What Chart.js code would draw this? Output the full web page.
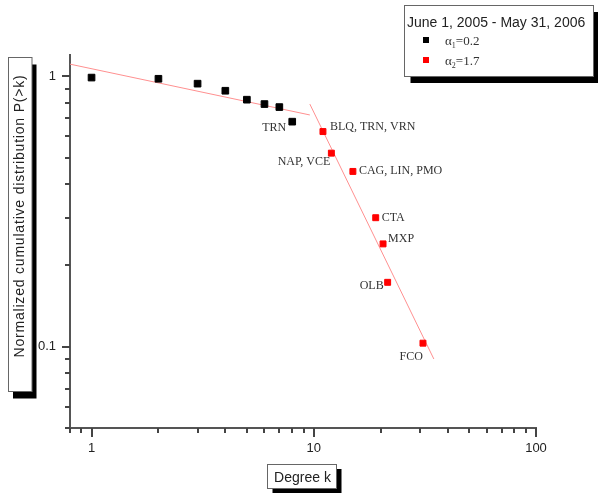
<!DOCTYPE html>
<html>
<head>
<meta charset="utf-8">
<script src="https://cdn.jsdelivr.net/npm/chart.js@4.4.0/dist/chart.umd.min.js"></script>
<style>
	html, body { margin: 0; padding: 0; background: #fff; }
	#wrap { position: relative; width: 598px; height: 493px; }
</style>
</head>
<body>
<div id="wrap"><canvas id="degreeChart"></canvas></div>
<script>
// Degree k vs normalized cumulative distribution P(>k)
const lowDegree = [1, 2, 3, 4, 5, 6, 7, 8];
const lowProb = [0.99, 0.98, 0.94, 0.885, 0.82, 0.79, 0.77, 0.68];
const lowNames = ["", "", "", "", "", "", "", "TRN"];

const highDegree = [11, 12, 15, 19, 20.5, 21.5, 31];
const highProb = [0.625, 0.52, 0.445, 0.30, 0.24, 0.173, 0.103];
const highNames = ["BLQ, TRN, VRN", "NAP, VCE", "CAG, LIN, PMO", "CTA", "MXP", "OLB", "FCO"];

// power law fits (end points)
const fit1Degree = [0.8, 9.6];
const fit1Prob = [1.11, 0.72];
const fit2Degree = [9.6, 34.7];
const fit2Prob = [0.79, 0.09];

const legendTitle = "June 1, 2005 - May 31, 2006";
const legendSymbols = ["1", "2"];
const legendValues = ["=0.2", "=1.7"];

const xTicks = [1, 10, 100];
const xTickText = ["1", "10", "100"];
const yTicks = [0.1, 1];
const yTickText = ["0.1", "1"];

const xTitle = "Degree k";
const yTitle = "Normalized cumulative distribution P(>k)";

// label placement next to the points: [dx, dy, align]
const lowNameOffsets = [null, null, null, null, null, null, null, [-6, 6, "right"]];
const highNameOffsets = [
	[7, -5, "left"],
	[-1, 9, "right"],
	[6, -1, "left"],
	[6, 0, "left"],
	[5, -5, "left"],
	[-4, 4, "right"],
	[0, 14, "right"],
];

const SANS = '"Liberation Sans", Arial, sans-serif';
const SERIF = '"Liberation Serif", "Times New Roman", serif';

function toPoints(xs, ys) {
	return xs.map((x, i) => ({ x: x, y: ys[i] }));
}

// minor/major tick positions of a log axis
function logSteps(min, max) {
	const out = [];
	for (let e = Math.floor(Math.log10(min)); e <= Math.ceil(Math.log10(max)); e++) {
		for (let m = 1; m <= 9; m++) {
			const v = m * Math.pow(10, e);
			if (v >= min * 0.9999 && v <= max * 1.0001) out.push({ v: v, major: m === 1 });
		}
	}
	return out;
}

const tickMarks = {
	id: "tickMarks",
	afterDraw(chart) {
		const ctx = chart.ctx;
		const xs = chart.scales.x;
		const ys = chart.scales.y;
		ctx.save();
		ctx.strokeStyle = "#444";
		ctx.lineWidth = 2;
		logSteps(xs.min, xs.max).forEach((t) => {
			const px = Math.round(xs.getPixelForValue(t.v));
			ctx.beginPath();
			ctx.moveTo(px, xs.top);
			ctx.lineTo(px, xs.top + (t.major ? 9 : 5));
			ctx.stroke();
		});
		logSteps(ys.min, ys.max).forEach((t) => {
			const py = Math.round(ys.getPixelForValue(t.v));
			ctx.beginPath();
			ctx.moveTo(ys.right, py);
			ctx.lineTo(ys.right - (t.major ? 8 : 5), py);
			ctx.stroke();
		});
		ctx.restore();
	},
};

function shadowBox(ctx, x, y, w, h, dx, dy) {
	ctx.fillStyle = "#000";
	ctx.fillRect(x + dx, y + dy, w, h);
	ctx.fillStyle = "#fff";
	ctx.fillRect(x, y, w, h);
	ctx.strokeStyle = "#666";
	ctx.lineWidth = 1;
	ctx.strokeRect(x, y, w, h);
}

const decorations = {
	id: "decorations",
	afterDraw(chart) {
		const ctx = chart.ctx;
		ctx.save();

		// y axis title box
		shadowBox(ctx, 8.5, 57.5, 23.5, 334, 4.5, 7);
		ctx.save();
		ctx.translate(23.5, 216);
		ctx.rotate(-Math.PI / 2);
		ctx.font = "14px " + SANS;
		if ("letterSpacing" in ctx) ctx.letterSpacing = "0.8px";
		ctx.fillStyle = "#222";
		ctx.textAlign = "center";
		ctx.textBaseline = "alphabetic";
		ctx.fillText(yTitle, 0, 0);
		ctx.restore();

		// x axis title box
		shadowBox(ctx, 267.5, 464.5, 69, 24, 5, 4.5);
		ctx.font = "14px " + SANS;
		ctx.fillStyle = "#222";
		ctx.textAlign = "center";
		ctx.textBaseline = "alphabetic";
		ctx.fillText(xTitle, 302.5, 482);

		// legend
		shadowBox(ctx, 404.5, 5.5, 189, 71, 6, 6.5);
		ctx.textAlign = "left";
		ctx.font = "14px " + SANS;
		ctx.fillStyle = "#222";
		ctx.fillText(legendTitle, 407, 26.5);
		chart.data.datasets.slice(0, 2).forEach((ds, i) => {
			const base = 44.5 + i * 20;
			ctx.fillStyle = ds.backgroundColor;
			ctx.fillRect(423, base - 7.5, 6, 6);
			ctx.fillStyle = "#333";
			ctx.font = "13px " + SERIF;
			ctx.fillText("\u03b1", 445, base);
			const aw = ctx.measureText("\u03b1").width;
			ctx.font = "8px " + SERIF;
			ctx.fillText(legendSymbols[i], 445 + aw, base + 3);
			const sw = ctx.measureText(legendSymbols[i]).width;
			ctx.font = "13px " + SERIF;
			ctx.fillText(legendValues[i], 445 + aw + sw, base);
		});

		ctx.restore();
	},
	afterDatasetsDraw(chart) {
		const ctx = chart.ctx;
		ctx.save();
		ctx.font = "12px " + SERIF;
		ctx.fillStyle = "#333";
		ctx.textBaseline = "middle";
		[[0, lowNames, lowNameOffsets], [1, highNames, highNameOffsets]].forEach(([idx, names, offs]) => {
			const meta = chart.getDatasetMeta(idx);
			meta.data.forEach((el, i) => {
				if (!names[i] || !offs[i]) return;
				ctx.textAlign = offs[i][2];
				ctx.fillText(names[i], el.x + offs[i][0], el.y + offs[i][1]);
			});
		});
		ctx.restore();
	},
};

const chartConfig = {
	type: "scatter",
	data: {
		datasets: [
			{
				label: "alpha1",
				data: toPoints(lowDegree, lowProb),
				backgroundColor: "#000000",
				borderColor: "#000000",
				borderWidth: 1,
				pointStyle: "rect",
				pointRadius: 4.7,
			},
			{
				label: "alpha2",
				data: toPoints(highDegree, highProb),
				backgroundColor: "#ff0000",
				borderColor: "#ff0000",
				borderWidth: 1,
				pointStyle: "rect",
				pointRadius: 4.2,
			},
			{
				label: "fit1",
				data: toPoints(fit1Degree, fit1Prob),
				showLine: true,
				borderColor: "#ff9090",
				borderWidth: 1,
				pointRadius: 0,
			},
			{
				label: "fit2",
				data: toPoints(fit2Degree, fit2Prob),
				showLine: true,
				borderColor: "#ff9090",
				borderWidth: 1,
				pointRadius: 0,
			},
		],
	},
	options: {
		responsive: true,
		maintainAspectRatio: false,
		animation: false,
		layout: {
			padding: { left: 0, top: 55, right: 62, bottom: 0 },
		},
		plugins: {
			legend: { display: false },
			tooltip: { enabled: false },
		},
		scales: {
			x: {
				type: "logarithmic",
				position: "bottom",
				min: 0.8,
				max: 100,
				border: { color: "#555", width: 2 },
				grid: { display: false, drawTicks: false },
				afterBuildTicks: (scale) => {
					scale.ticks = xTicks.map((v) => ({ value: v }));
				},
				afterFit: (scale) => {
					scale.height = 65;
				},
				ticks: {
					autoSkip: false,
					maxRotation: 0,
					padding: 13,
					color: "#222",
					font: { family: SANS, size: 13 },
					callback: (value, index) => xTickText[index],
				},
			},
			y: {
				type: "logarithmic",
				position: "left",
				min: 0.05,
				max: 1.2,
				border: { color: "#555", width: 2 },
				grid: { display: false, drawTicks: false },
				afterBuildTicks: (scale) => {
					scale.ticks = yTicks.map((v) => ({ value: v }));
				},
				afterFit: (scale) => {
					scale.width = 70;
				},
				ticks: {
					autoSkip: false,
					padding: 14,
					color: "#222",
					font: { family: SANS, size: 13 },
					callback: (value, index) => yTickText[index],
				},
			},
		},
	},
	plugins: [tickMarks, decorations],
};

document.addEventListener("DOMContentLoaded", () => {
	new Chart(document.getElementById("degreeChart"), chartConfig);
});
</script>
</body>
</html>
